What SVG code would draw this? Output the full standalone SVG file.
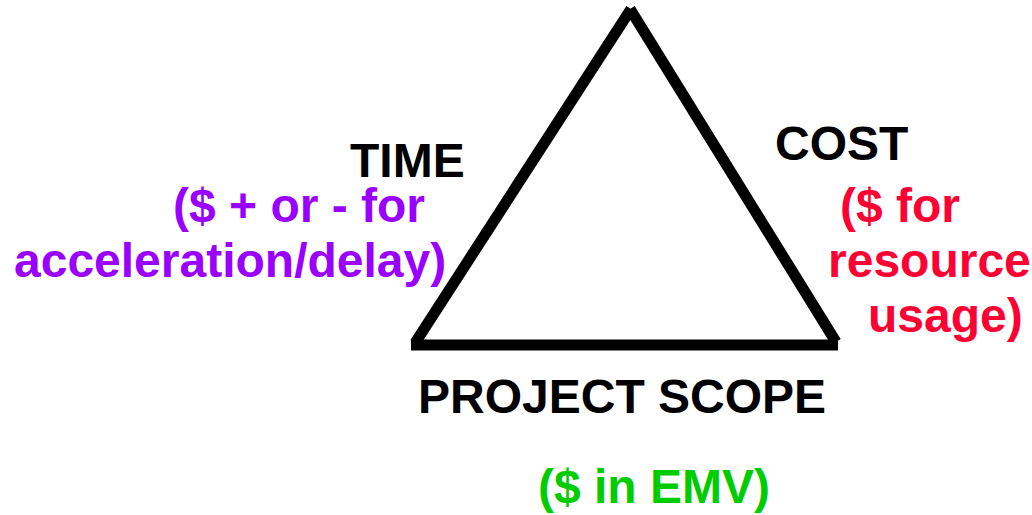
<svg xmlns="http://www.w3.org/2000/svg" width="1032" height="515" viewBox="0 0 1032 515">
<style>
text{font-family:"Liberation Sans",Arial,sans-serif;font-weight:bold;font-size:48px}
.k{fill:#000}
.p{fill:#9900ff}
.r{fill:#ff0033}
.g{fill:#00cc00}
.edge{stroke:#000;stroke-width:11;fill:none;stroke-linecap:butt}
</style>
<rect width="1032" height="515" fill="#fff"/>
<g id="connectors">
<line class="edge" x1="631" y1="9" x2="415" y2="343"/>
<line class="edge" x1="630" y1="9" x2="836" y2="342"/>
<line class="edge" x1="411" y1="345" x2="838" y2="345"/>
</g>
<g id="time">
<text class="k" x="350" y="177">TIME</text>
<text class="p" x="173" y="222">($ + or - for</text>
<text class="p" x="14" y="277">acceleration/delay)</text>
</g>
<g id="cost">
<text class="k" x="775" y="160">COST</text>
<text class="r" x="840" y="222">($ for</text>
<text class="r" x="828" y="277">resource</text>
<text class="r" x="868" y="332">usage)</text>
</g>
<g id="scope">
<text class="k" x="418" y="413">PROJECT SCOPE</text>
<text class="g" x="538" y="503">($ in EMV)</text>
</g>
</svg>
